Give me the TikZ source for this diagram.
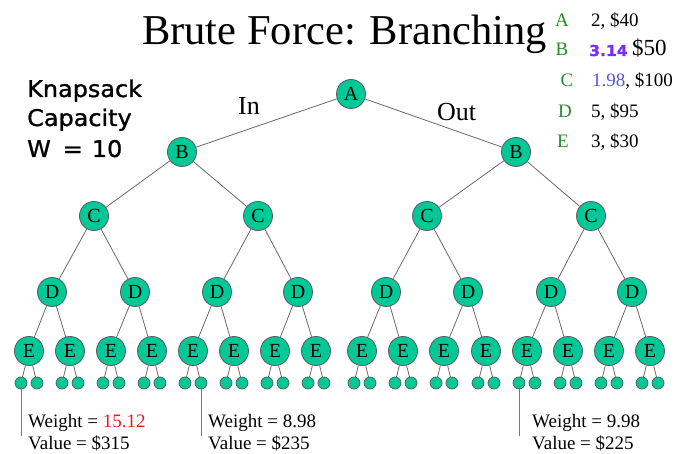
\documentclass[tikz,border=0pt]{standalone}
\usepackage{fontspec}
\setmainfont{Liberation Serif}
\newfontfamily\capfont[FakeBold=1.2,FakeStretch=1.04]{DejaVu Sans}
\definecolor{nodefill}{RGB}{0,200,150}
\definecolor{nodeedge}{RGB}{90,90,90}
\definecolor{edgegray}{RGB}{105,105,105}
\definecolor{pointergray}{RGB}{120,120,120}
\definecolor{itemgreen}{RGB}{40,140,40}
\definecolor{hotred}{RGB}{225,30,30}
\definecolor{violetnum}{RGB}{125,45,250}
\definecolor{bluenum}{RGB}{85,85,215}
\begin{document}
\begin{tikzpicture}[x=1pt,y=-1pt,
  treenode/.style={circle, draw=nodeedge, fill=nodefill, line width=0.8pt,
    minimum size=29pt, inner sep=0pt, font=\fontsize{20}{20}\selectfont},
  leaf/.style={circle, draw=nodeedge, fill=nodefill, line width=0.7pt,
    minimum size=12pt, inner sep=0pt},
  branch/.style={draw=edgegray, line width=0.8pt},
  pointer/.style={draw=pointergray, line width=0.9pt},
  txt/.style={anchor=base west, inner sep=0pt},
  captxt/.style={txt, font=\capfont\fontsize{23}{23}\selectfont},
  legletter/.style={anchor=base, inner sep=0pt, text=itemgreen,
    font=\fontsize{19}{19}\selectfont},
  legval/.style={txt, font=\fontsize{19}{19}\selectfont},
  result/.style={txt, font=\fontsize{19}{19}\selectfont}]
\useasboundingbox (0,0) rectangle (689,454);

% title
\node[txt, font=\fontsize{42.5}{42.5}\selectfont] (title) at (142,45) {Brute Force: Branching};

% capacity note
\node[captxt] (cap1) at (27,97) {Knapsack};
\node[captxt] (cap2) at (27,126) {Capacity};
\node[captxt] (cap3) at (27,157) {W\hspace{12pt}=\hspace{9pt}10};

% item legend: weight, value
\node[legletter] (kA) at (562,27) {A};
\node[legletter] (kB) at (562,56) {B};
\node[legletter] (kC) at (567,87) {C};
\node[legletter] (kD) at (565,118) {D};
\node[legletter] (kE) at (563,148) {E};
\node[legval] (vA) at (591,27) {2, \$40};
\node[txt, font=\capfont\bfseries\fontsize{15}{15}\selectfont, text=violetnum] (vB1) at (589,56) {3.14};
\node[txt, font=\fontsize{23}{23}\selectfont] (vB2) at (632,56) {\$50};
\node[legval] (vC) at (592,87) {\textcolor{bluenum}{1.98}, \$100};
\node[legval] (vD) at (591,118) {5, \$95};
\node[legval] (vE) at (591,148) {3, \$30};

% branch labels
\node[txt, font=\fontsize{26}{26}\selectfont] (in) at (238,115) {In};
\node[txt, font=\fontsize{26}{26}\selectfont] (out) at (437,121) {Out};

% tree nodes
\node[treenode] (A) at (351,94) {A};
\foreach \x [count=\i] in {182,516}
  \node[treenode] (B\i) at (\x,152) {B};
\foreach \x [count=\i] in {94,258,427,591}
  \node[treenode] (C\i) at (\x,216) {C};
\foreach \x [count=\i] in {52,135,217,298,386,468,551,632}
  \node[treenode] (D\i) at (\x,292) {D};
\foreach \x [count=\i] in {29,70,111,152,193,234,275,316,362,403,444,486,527,568,609,650}{
  \node[treenode] (E\i) at (\x,351) {E};
  \pgfmathtruncatemacro\la{2*\i-1}
  \pgfmathtruncatemacro\lb{2*\i}
  \node[leaf] (L\la) at (\x-8,383) {};
  \node[leaf] (L\lb) at (\x+8,383) {};
}

% branches
\draw[branch] (A) -- (B1) (A) -- (B2);
\foreach \j in {1,2}{
  \pgfmathtruncatemacro\ca{2*\j-1}
  \pgfmathtruncatemacro\cb{2*\j}
  \draw[branch] (B\j) -- (C\ca) (B\j) -- (C\cb);
}
\foreach \j in {1,...,4}{
  \pgfmathtruncatemacro\da{2*\j-1}
  \pgfmathtruncatemacro\db{2*\j}
  \draw[branch] (C\j) -- (D\da) (C\j) -- (D\db);
}
\foreach \j in {1,...,8}{
  \pgfmathtruncatemacro\ea{2*\j-1}
  \pgfmathtruncatemacro\eb{2*\j}
  \draw[branch] (D\j) -- (E\ea) (D\j) -- (E\eb);
}
\foreach \j in {1,...,16}{
  \pgfmathtruncatemacro\fa{2*\j-1}
  \pgfmathtruncatemacro\fb{2*\j}
  \draw[branch] (E\j) -- (L\fa) (E\j) -- (L\fb);
}

% example outcomes
\coordinate (p1) at (L1.center |- 0,436);
\coordinate (p2) at (L10.center |- 0,436);
\coordinate (p3) at (L25.center |- 0,436);
\draw[pointer] (L1.center) -- (p1);
\draw[pointer] (L10.center) -- (p2);
\draw[pointer] (L25.center) -- (p3);

\node[result] (w1) at (28,428) {Weight = \textcolor{hotred}{15.12}};
\node[result] (v1) at (28,450) {Value = \$315};
\node[result] (w2) at (208,428) {Weight = 8.98};
\node[result] (v2) at (208,450) {Value = \$235};
\node[result] (w3) at (532,428) {Weight = 9.98};
\node[result] (v3) at (532,450) {Value = \$225};
\end{tikzpicture}
\end{document}
